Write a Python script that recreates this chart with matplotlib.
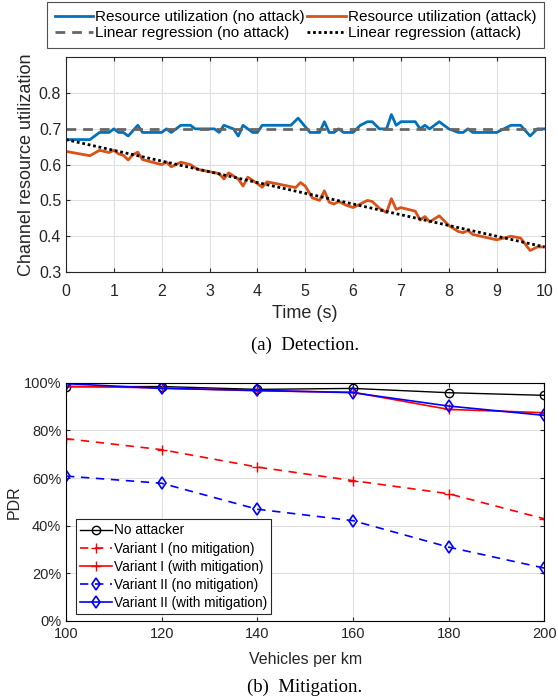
import numpy as np
import matplotlib
matplotlib.use('Agg')
import matplotlib.pyplot as plt

# --- Dati ---

# (a) Detection
t_no_attack = [0, 0.5, 0.7, 0.9, 1.0, 1.1, 1.2, 1.3, 1.5, 1.6, 2.0, 2.1, 2.2, 2.4, 2.6, 2.7,
               3.1, 3.2, 3.3, 3.5, 3.6, 3.7, 3.9, 4.0, 4.1, 4.7, 4.85, 5.1, 5.3, 5.4, 5.5,
               5.6, 5.7, 5.8, 6.0, 6.15, 6.3, 6.4, 6.55, 6.7, 6.8, 6.9, 7.0, 7.3, 7.4, 7.5,
               7.6, 7.8, 8.0, 8.2, 8.3, 8.4, 8.5, 9.0, 9.15, 9.3, 9.5, 9.7, 9.85, 10]
u_no_attack = [0.67, 0.67, 0.69, 0.69, 0.70, 0.69, 0.69, 0.68, 0.71, 0.69, 0.69, 0.70, 0.69, 0.71, 0.71, 0.70,
               0.70, 0.69, 0.71, 0.70, 0.68, 0.71, 0.69, 0.69, 0.71, 0.71, 0.73, 0.69, 0.69, 0.72, 0.69,
               0.69, 0.70, 0.69, 0.69, 0.71, 0.72, 0.72, 0.70, 0.70, 0.74, 0.71, 0.72, 0.72, 0.70, 0.71,
               0.70, 0.72, 0.70, 0.69, 0.69, 0.70, 0.69, 0.69, 0.70, 0.71, 0.71, 0.68, 0.70, 0.70]

t_attack = [0, 0.5, 0.7, 0.9, 1.0, 1.1, 1.2, 1.3, 1.4, 1.5, 1.6, 2.0, 2.1, 2.2, 2.4, 2.6, 2.75,
            3.2, 3.3, 3.4, 3.6, 3.7, 3.8, 4.0, 4.1, 4.2, 4.8, 4.9, 5.0, 5.15, 5.3, 5.4, 5.5,
            5.6, 5.7, 5.85, 6.0, 6.15, 6.3, 6.4, 6.55, 6.7, 6.8, 6.9, 7.0, 7.3, 7.4, 7.5, 7.6,
            7.8, 8.0, 8.2, 8.3, 8.4, 8.5, 9.0, 9.3, 9.5, 9.7, 9.85, 10]
u_attack = [0.637, 0.625, 0.64, 0.634, 0.64, 0.63, 0.626, 0.613, 0.628, 0.635, 0.614, 0.60, 0.607, 0.594, 0.607, 0.60, 0.587,
            0.575, 0.56, 0.577, 0.56, 0.54, 0.565, 0.547, 0.537, 0.552, 0.536, 0.55, 0.54, 0.507, 0.50, 0.527, 0.495,
            0.49, 0.497, 0.487, 0.48, 0.49, 0.50, 0.497, 0.478, 0.466, 0.505, 0.475, 0.48, 0.47, 0.445, 0.455, 0.44,
            0.457, 0.43, 0.413, 0.41, 0.416, 0.405, 0.39, 0.40, 0.395, 0.36, 0.37, 0.37]

t_reg = [0, 10]
reg_no_attack = [0.70, 0.70]
reg_attack = [0.67, 0.37]

# (b) Mitigation
vehicles = [100, 120, 140, 160, 180, 200]
pdr_no_attacker = [98.3, 98.4, 97.2, 97.6, 95.8, 94.7]
pdr_v1_no_mit = [76.5, 71.9, 64.6, 58.9, 53.4, 42.9]
pdr_v1_mit = [98.5, 97.8, 96.6, 96.0, 88.8, 87.4]
pdr_v2_no_mit = [60.8, 57.8, 46.9, 42.1, 31.0, 22.2]
pdr_v2_mit = [99.6, 97.6, 96.8, 95.8, 90.2, 86.3]

# --- Grafico ---

plt.rcParams['font.family'] = ['Liberation Sans', 'DejaVu Sans']
BLU = (0, 0.447, 0.741)
ARANCIO = (0.85, 0.325, 0.098)
GRIGIO_ASSI = (0.15, 0.15, 0.15)

fig = plt.figure(figsize=(5.58, 6.99), dpi=100)
W, H = 558, 699


def box(x0, y0, x1, y1):
    return [x0 / W, 1 - y1 / H, (x1 - x0) / W, (y1 - y0) / H]


def stile_assi(ax, fs, xpad):
    for s in ax.spines.values():
        s.set_color(GRIGIO_ASSI)
        s.set_linewidth(0.8)
    ax.tick_params(direction='in', top=True, right=True, colors=GRIGIO_ASSI,
                   labelsize=fs, length=3, width=0.8)
    ax.tick_params(axis='x', pad=xpad)
    ax.grid(True, color=(0.88, 0.88, 0.88), linewidth=0.8)
    ax.set_axisbelow(True)


# (a)
ax1 = fig.add_axes(box(66, 57.3, 544.5, 272))
ax1.plot(t_no_attack, u_no_attack, color=BLU, linewidth=2, label='Resource utilization (no attack)')
ax1.plot(t_attack, u_attack, color=ARANCIO, linewidth=2, label='Resource utilization (attack)')
ax1.plot(t_reg, reg_no_attack, color=(0.4, 0.4, 0.4), linestyle=(0, (3.5, 2.5)), linewidth=2,
         label='Linear regression (no attack)')
ax1.plot(t_reg, reg_attack, color='black', linestyle=(0, (1, 1)), linewidth=2,
         label='Linear regression (attack)')
ax1.set_xlim(0, 10)
ax1.set_ylim(0.3, 0.9)
ax1.set_xticks(range(0, 11))
ax1.set_yticks([0.3, 0.4, 0.5, 0.6, 0.7, 0.8])
stile_assi(ax1, 11.5, 9)
ax1.set_xlabel('Time (s)', fontsize=13, color=GRIGIO_ASSI, labelpad=4)
ax1.set_ylabel('Channel resource utilization', fontsize=13, color=GRIGIO_ASSI, labelpad=3)

handles, labels = ax1.get_legend_handles_labels()
ordine = [0, 2, 1, 3]
leg1 = fig.legend([handles[i] for i in ordine], [labels[i] for i in ordine], ncol=2,
                  bbox_to_anchor=(47 / W, 1 - 48 / H, (544 - 47) / W, 43 / H), mode='expand',
                  loc='lower left', fontsize=11, fancybox=False, edgecolor=GRIGIO_ASSI,
                  handlelength=2.5, handletextpad=0.15, columnspacing=0.4, borderpad=0.5,
                  labelspacing=0.15, borderaxespad=0)
leg1.get_frame().set_linewidth(0.8)

fig.text(305 / W, 1 - 345 / H, '(a)  Detection.', ha='center', va='center',
         fontsize=13.5, family='Liberation Serif')

# (b)
ax2 = fig.add_axes(box(66, 382.7, 544.3, 621))
ax2.plot(vehicles, pdr_no_attacker, color='black', marker='o', mfc='none', markersize=6,
         linewidth=1, label='No attacker')
ax2.plot(vehicles, pdr_v1_no_mit, color='red', marker='+', markersize=7, linestyle=(0, (5, 4)),
         linewidth=1.2, label='Variant I (no mitigation)')
ax2.plot(vehicles, pdr_v1_mit, color='red', marker='+', markersize=7, linewidth=1.2,
         label='Variant I (with mitigation)')
ax2.plot(vehicles, pdr_v2_no_mit, color='blue', marker='d', mfc='none', markersize=6,
         linestyle=(0, (5, 4)), linewidth=1.2, markeredgewidth=1.2, label='Variant II (no mitigation)')
ax2.plot(vehicles, pdr_v2_mit, color='blue', marker='d', mfc='none', markersize=6,
         linewidth=1.2, markeredgewidth=1.2, label='Variant II (with mitigation)')
ax2.set_xlim(100, 200)
ax2.set_ylim(0, 100)
ax2.set_xticks(vehicles)
ax2.set_yticks([0, 20, 40, 60, 80, 100])
ax2.set_yticklabels([f'{v}%' for v in [0, 20, 40, 60, 80, 100]])
stile_assi(ax2, 10.5, 4)
for s in ax2.spines.values():
    s.set_color('black')
ax2.set_xlabel('Vehicles per km', fontsize=11.5, color=GRIGIO_ASSI, labelpad=8)
ax2.set_ylabel('PDR', fontsize=11.5, color=GRIGIO_ASSI, labelpad=1)
leg2 = ax2.legend(loc='lower left', fontsize=9.8, fancybox=False, edgecolor=GRIGIO_ASSI,
                  handlelength=2.4, handletextpad=0.1, borderpad=0.3, labelspacing=0.3,
                  bbox_to_anchor=(0.02, 0.03), borderaxespad=0, framealpha=1)
leg2.get_frame().set_linewidth(0.8)

fig.text(305 / W, 1 - 687 / H, '(b)  Mitigation.', ha='center', va='center',
         fontsize=13.5, family='Liberation Serif')

fig.savefig('out.png', dpi=100)
